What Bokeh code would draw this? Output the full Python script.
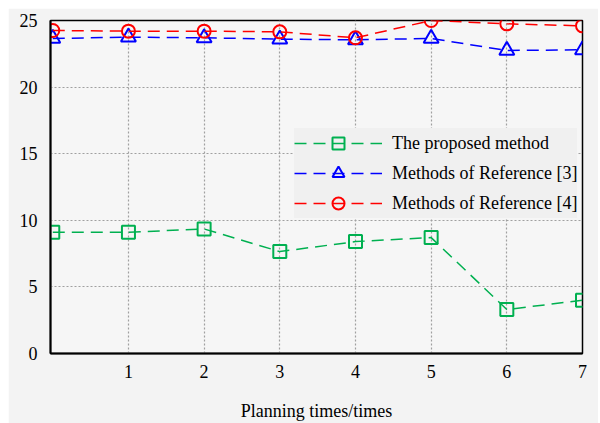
from bokeh.plotting import figure
from bokeh.models import Legend, LegendItem, FixedTicker, Range1d
from bokeh.embed import file_html
from bokeh.resources import INLINE

x = [0, 1, 2, 3, 4, 5, 6, 7]
proposed = [9.1, 9.1, 9.35, 7.65, 8.4, 8.7, 3.3, 4.0]
ref3 = [23.65, 23.75, 23.7, 23.6, 23.55, 23.65, 22.75, 22.8]
ref4 = [24.25, 24.2, 24.2, 24.15, 23.7, 25.0, 24.75, 24.6]
x_ticks = [1, 2, 3, 4, 5, 6, 7]
y_ticks = [0, 5, 10, 15, 20, 25]
labels = ["The proposed method", "Methods of Reference [3]", "Methods of Reference [4]"]

FONT = "Liberation Serif"

p = figure(width=590, height=415, output_backend="svg", toolbar_location=None,
           x_range=Range1d(-0.03, 7.0), y_range=Range1d(0, 25),
           min_border_left=42, min_border_right=16, min_border_top=12, min_border_bottom=69,
           margin=(8, 0, 0, 8))
p.background_fill_color = "#f6f6f6"
p.border_fill_color = "#f3f3f3"
p.outline_line_color = "black"
p.outline_line_width = 1.5

for ax in (p.xaxis[0], p.yaxis[0]):
    ax.axis_line_width = 2
    ax.axis_line_color = "black"
    ax.major_tick_line_color = None
    ax.minor_tick_line_color = None
    ax.major_label_text_font = FONT
    ax.major_label_text_font_size = "18px"
    ax.major_label_text_color = "black"

p.xaxis.ticker = FixedTicker(ticks=x_ticks)
p.yaxis.ticker = FixedTicker(ticks=y_ticks)
p.xaxis.major_label_standoff = 5
p.yaxis.major_label_standoff = 7
p.xaxis.axis_label = "Planning times/times"
p.xaxis.axis_label_text_font = FONT
p.xaxis.axis_label_text_font_size = "18px"
p.xaxis.axis_label_text_font_style = "normal"
p.xaxis.axis_label_text_color = "black"
p.xaxis.axis_label_standoff = 20

p.grid.grid_line_color = "#a0a0a0"
p.grid.grid_line_dash = "2 2"
p.grid.grid_line_width = 1.2

colors = ["#00b050", "#0000ff", "#ff0000"]
series = [proposed, ref3, ref4]
markers = ["square", "triangle", "circle"]
sizes = [13, 15, 13]

items = []
for ys, c, m, s, lab in zip(series, colors, markers, sizes, labels):
    l = p.line(x, ys, line_color=c, line_width=1.5, line_dash="12 7")
    sc = p.scatter(x, ys, marker=m, size=s, fill_color=None, line_color=c, line_width=2)
    items.append(LegendItem(label=lab, renderers=[l, sc]))

legend = Legend(items=items, location=(244, 135))
legend.label_text_font = FONT
legend.label_text_font_size = "18px"
legend.label_text_color = "black"
legend.background_fill_color = "#f0f0f0"
legend.background_fill_alpha = 1
legend.border_line_color = None
legend.glyph_width = 88
legend.glyph_height = 30
legend.label_height = 20
legend.spacing = -2
legend.padding = 5
legend.label_standoff = 10
legend.margin = 0
p.add_layout(legend, "center")

open("out.html", "w").write(file_html(p, INLINE))
